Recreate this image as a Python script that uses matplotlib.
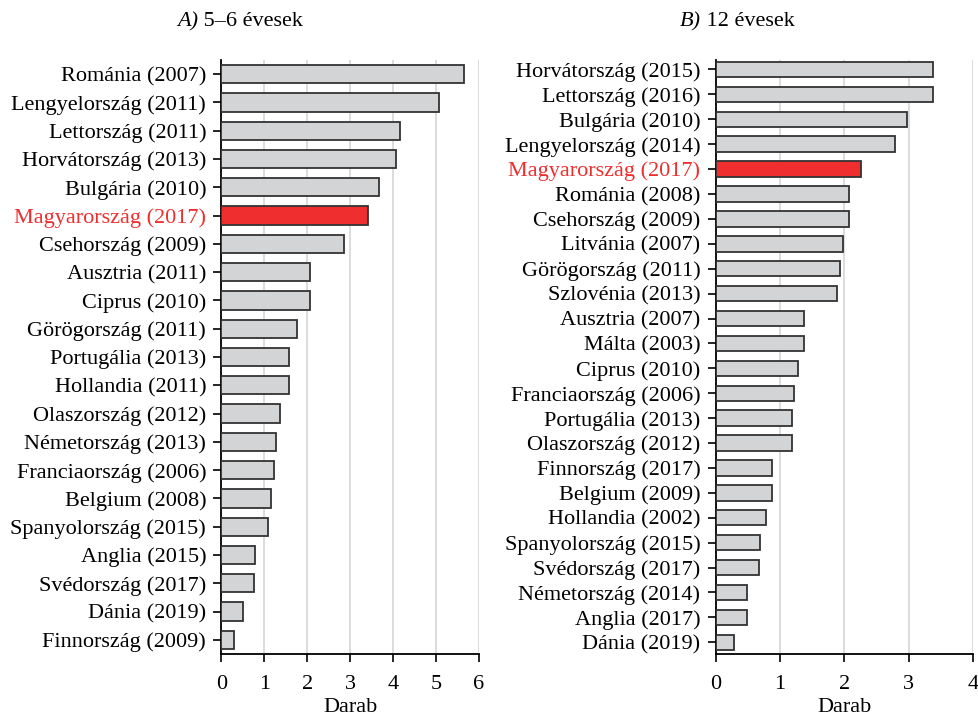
import matplotlib.pyplot as plt

plt.rcParams['font.family'] = ['Liberation Serif', 'DejaVu Serif']

# A) 5-6 year olds
countries_a = ["Románia (2007)", "Lengyelország (2011)", "Lettország (2011)", "Horvátország (2013)",
               "Bulgária (2010)", "Magyarország (2017)", "Csehország (2009)", "Ausztria (2011)",
               "Ciprus (2010)", "Görögország (2011)", "Portugália (2013)", "Hollandia (2011)",
               "Olaszország (2012)", "Németország (2013)", "Franciaország (2006)", "Belgium (2008)",
               "Spanyolország (2015)", "Anglia (2015)", "Svédország (2017)", "Dánia (2019)",
               "Finnország (2009)"]
values_a = [5.66, 5.06, 4.17, 4.07, 3.66, 3.42, 2.86, 2.07, 2.07, 1.77, 1.57, 1.57,
            1.37, 1.27, 1.23, 1.16, 1.08, 0.77, 0.76, 0.49, 0.28]

# B) 12 year olds
countries_b = ["Horvátország (2015)", "Lettország (2016)", "Bulgária (2010)", "Lengyelország (2014)",
               "Magyarország (2017)", "Románia (2008)", "Csehország (2009)", "Litvánia (2007)",
               "Görögország (2011)", "Szlovénia (2013)", "Ausztria (2007)", "Málta (2003)",
               "Ciprus (2010)", "Franciaország (2006)", "Portugália (2013)", "Olaszország (2012)",
               "Finnország (2017)", "Belgium (2009)", "Hollandia (2002)", "Spanyolország (2015)",
               "Svédország (2017)", "Németország (2014)", "Anglia (2017)", "Dánia (2019)"]
values_b = [3.38, 3.38, 2.98, 2.78, 2.26, 2.08, 2.08, 1.98, 1.93, 1.88, 1.38, 1.38,
            1.28, 1.21, 1.19, 1.19, 0.88, 0.88, 0.78, 0.69, 0.68, 0.48, 0.48, 0.29]

highlight = "Magyarország (2017)"
GRAY = "#d3d4d6"
RED = "#ee2e2f"

W, H = 979, 718
fig = plt.figure(figsize=(W / 100, H / 100), dpi=100)


def panel(rect, names, vals, xmax, height, ylim):
    ax = fig.add_axes(rect)
    colors = [RED if n == highlight else GRAY for n in names]
    ax.barh(range(len(names)), vals, height=height, color=colors,
            edgecolor="#333333", linewidth=1.3, zorder=3)
    ax.set_yticks(range(len(names)))
    ax.set_yticklabels(names, fontsize=16)
    for lab in ax.get_yticklabels():
        if lab.get_text() == highlight:
            lab.set_color(RED)
    ax.set_ylim(*ylim)
    ax.set_xlim(0, xmax)
    ax.set_xticks(range(xmax + 1))
    ax.tick_params(axis='x', labelsize=16, length=6, width=1.2, pad=9)
    ax.tick_params(axis='y', length=6, width=1.2, pad=5)
    ax.xaxis.grid(True, color="#d9d9d9", linewidth=1.3, zorder=0)
    ax.set_axisbelow(True)
    for s in ("top", "right"):
        ax.spines[s].set_visible(False)
    ax.spines["left"].set_linewidth(1.3)
    ax.spines["bottom"].set_linewidth(1.3)
    ax.set_xlabel("Darab", fontsize=16, labelpad=3)
    return ax


panel([221.5 / W, 1 - 654 / H, (479 - 221.5) / W, 594 / H], countries_a, values_a, 6, 0.65, (20.5, -0.5))
panel([715.7 / W, 1 - 654 / H, (973 - 715.7) / W, 594 / H], countries_b, values_b, 4, 0.62, (23.47, -0.38))

ty = 1 - 22 / H
fig.text(198 / W, ty, "A)", style='italic', fontsize=16, ha='right', va='center')
fig.text(198 / W, ty, " 5–6 évesek", fontsize=16, ha='left', va='center')
fig.text(701 / W, ty, "B)", style='italic', fontsize=16, ha='right', va='center')
fig.text(701 / W, ty, " 12 évesek", fontsize=16, ha='left', va='center')

fig.savefig("out.png", dpi=100)
